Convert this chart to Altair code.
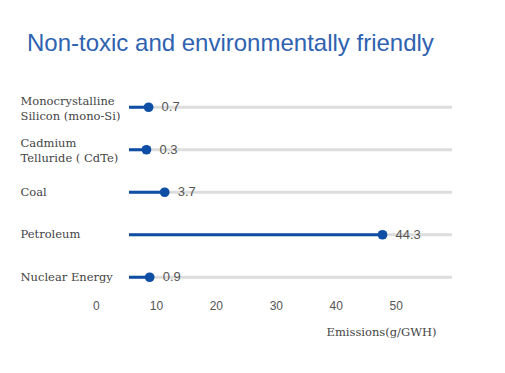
import altair as alt
import pandas as pd

# ---- data ----
categories = [
    "Monocrystalline\nSilicon (mono-Si)",
    "Cadmium\nTelluride ( CdTe)",
    "Coal",
    "Petroleum",
    "Nuclear Energy",
]
values = [0.7, 0.3, 3.7, 44.3, 0.9]
value_labels = ["0.7", "0.3", "3.7", "44.3", "0.9"]
tick_values = [0, 10, 20, 30, 40, 50]

# ---- style / layout ----
W, H = 323, 212.5
X_DOMAIN = [-2.95, 57.25]      # lollipop scale
TICK_DOMAIN = [5.43, 59.3]     # scale of the printed axis labels
BLUE = "#0E4EA5"
TITLE_BLUE = "#2F62B0"
GRAY_TXT = "#555555"

df = pd.DataFrame({"source": categories, "value": values, "label": value_labels})
ticks = pd.DataFrame({"tick": tick_values})

y = alt.Y(
    "source:N",
    sort=categories,
    scale=alt.Scale(type="point", padding=0.5),
    axis=alt.Axis(
        title=None,
        ticks=False,
        tickSize=0,
        domain=False,
        labelAlign="left",
        labelBaseline="middle",
        labelPadding=109,
        labelFont="DejaVu Serif",
        labelFontSize=11.5,
        labelColor="#444444",
        labelLineHeight=15,
        labelLimit=300,
        labelOffset={"condition": {"test": "indexof(datum.value, '\\n') >= 0", "value": -6}, "value": 0},
        labelExpr="split(datum.label, '\\n')",
    ),
)
x = alt.X("value:Q", scale=alt.Scale(domain=X_DOMAIN, nice=False, zero=False), axis=None)

base = alt.Chart(df)

track = base.mark_rule(color="#dddddd", strokeWidth=3).encode(
    y=y, x=alt.value(0), x2=alt.value(W)
)
bar = base.mark_rule(color=BLUE, strokeWidth=3).encode(y=y, x=x, x2=alt.value(0))
dot = base.mark_circle(size=95, color=BLUE, opacity=1).encode(y=y, x=x)
lbl = base.mark_text(
    align="left", baseline="middle", dx=13, fontSize=13, color=GRAY_TXT,
    font="Liberation Sans",
).encode(y=y, x=x, text="label:N")

tick_txt = alt.Chart(ticks).mark_text(
    align="center", baseline="middle", fontSize=12, color=GRAY_TXT, font="Liberation Sans"
).encode(
    x=alt.X(
        "tick:Q",
        scale=alt.Scale(domain=TICK_DOMAIN, nice=False, zero=False),
        axis=alt.Axis(
            labels=False, ticks=False, domain=False, grid=False,
            title="Emissions(g/GWH)", titleFont="DejaVu Serif", titleFontSize=11.5,
            titleFontWeight="normal", titleColor="#444444",
            titleAnchor="start", titleAlign="center", titleX=252, titleY=34,
            titleBaseline="middle",
        ),
    ),
    y=alt.value(H + 7),
    text="tick:Q",
)

chart = (
    alt.layer(track, bar, dot, lbl, tick_txt)
    .resolve_scale(x="independent")
    .properties(
        width=W,
        height=H,
        autosize=alt.AutoSizeParams(type="none"),
        padding={"left": 121, "top": 78, "right": 40, "bottom": 60},
        title=alt.Title(
            "Non-toxic and environmentally friendly",
            anchor="start", dx=7, offset=30, fontSize=24,
            font="Liberation Sans", fontWeight="normal", color=TITLE_BLUE,
        ),
    )
    .configure_view(stroke=None)
    .configure_axis(grid=False)
)

chart.save("out.html", embed_options={"renderer": "svg", "actions": False})
